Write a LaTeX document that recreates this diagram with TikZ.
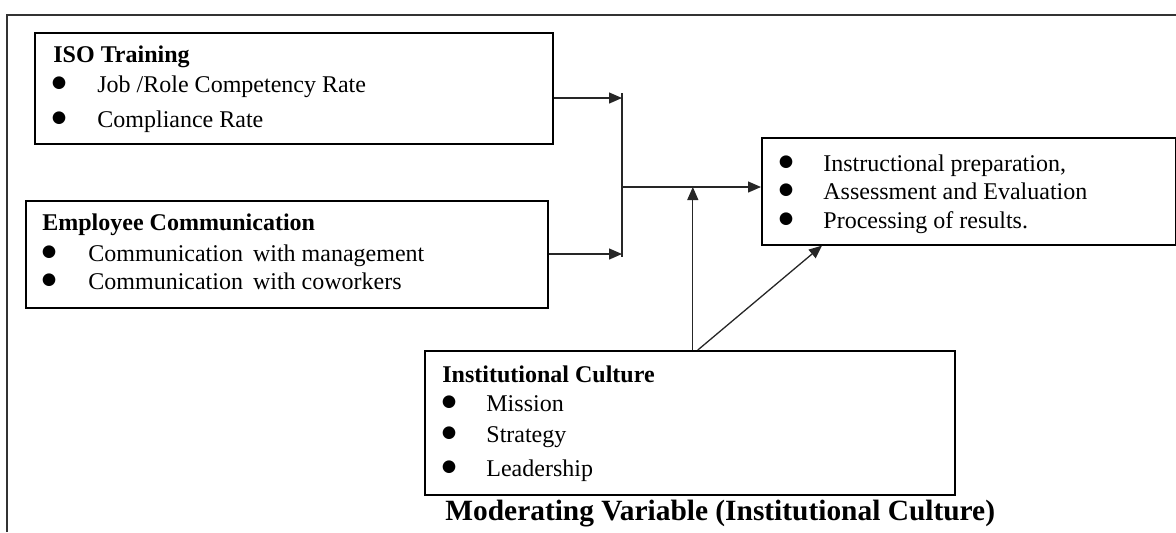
\documentclass[tikz,border=0pt]{standalone}
\usepackage{fontspec}
\setmainfont{Liberation Serif}
\newfontfamily\symfont{DejaVu Sans}
\usetikzlibrary{arrows.meta,calc}
\tikzset{
  boxnode/.style={draw=black, line width=0.8pt, rectangle, anchor=north west, inner sep=0pt},
  txt/.style={anchor=base west, inner sep=0pt, font=\fontsize{12}{14}\selectfont},
  ttl/.style={anchor=base west, inner sep=0pt, font=\fontsize{12}{14}\selectfont\bfseries},
  conn/.style={draw=black!85, line width=0.65pt},
  arr/.style={conn, -{Triangle[length=6.5pt,width=5.5pt]}},
}
\newcommand{\bigbul}{\raisebox{2.2pt}{\symfont\fontsize{8.3}{9}\selectfont ●}}
\newcommand{\bitem}[2]{\makebox[#1][l]{\bigbul}#2}
\begin{document}
\begin{tikzpicture}[x=0.5pt,y=-0.5pt]
\useasboundingbox (0,0) rectangle (1176,532);
% outer frame
\coordinate (fbl) at (7,532);
\coordinate (ftl) at (7,15);
\coordinate (ftr) at (1176,15);
\draw[line width=0.8pt, draw=black!80] (fbl) -- (ftl) -- (ftr);

% boxes
\node[boxnode, minimum width=259pt, minimum height=55.5pt] (iso) at (34,32) {};
\node[boxnode, minimum width=261pt, minimum height=53.5pt] (emp) at (25,200) {};
\node[boxnode, minimum width=207pt, minimum height=53.5pt] (out) at (761,137) {};
\node[boxnode, minimum width=265pt, minimum height=72pt] (inst) at (424,350) {};

% texts
\node[ttl] (isoT) at (53,62) {ISO Training};
\node[txt] (iso1) at (51.5,92) {\bitem{22.75pt}{Job /Role Competency Rate}};
\node[txt] (iso2) at (51.5,127) {\bitem{22.75pt}{Compliance Rate}};

\node[ttl] (empT) at (42,230) {Employee Communication};
\node[txt] (emp1) at (41.5,261) {\bitem{23.25pt}{Communication\, with management}};
\node[txt] (emp2) at (41.5,289) {\bitem{23.25pt}{Communication\, with coworkers}};

\node[txt] (out1) at (778.5,171) {\bitem{22.25pt}{Instructional preparation,}};
\node[txt] (out2) at (778.5,199) {\bitem{22.25pt}{Assessment and Evaluation}};
\node[txt] (out3) at (778.5,228) {\bitem{22.25pt}{Processing of results.}};

\node[ttl] (instT) at (442,382) {Institutional Culture};
\node[txt] (inst1) at (441.5,411) {\bitem{22.25pt}{Mission}};
\node[txt] (inst2) at (441.5,442) {\bitem{22.25pt}{Strategy}};
\node[txt] (inst3) at (441.5,476) {\bitem{22.25pt}{Leadership}};

\node[anchor=base west, inner sep=0pt, font=\fontsize{14.7}{16}\selectfont\bfseries] (cap) at (445,520) {Moderating Variable (Institutional Culture)};

% junction
\coordinate (jt) at (622,93);
\coordinate (jb) at (622,257);
\coordinate (j1) at (622,98);
\coordinate (j2) at (622,254);
\coordinate (j3) at (622,187);
\draw[conn] (jt) -- (jb);

\draw[arr] (iso.east |- j1) -- (j1);
\draw[arr] (emp.east |- j2) -- (j2);
\draw[arr] (j3) -- (out.west |- j3);
\draw[arr] ([xshift=1.5pt]inst.north) -- ([xshift=1.5pt]inst.north |- j3);
\draw[arr] ([xshift=4pt]inst.north) -- ([xshift=30.5pt]out.south west);
\end{tikzpicture}
\end{document}
